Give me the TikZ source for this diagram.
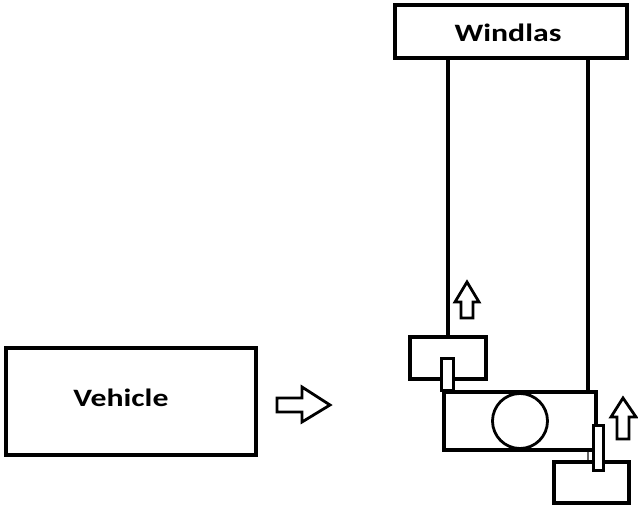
\documentclass[tikz,border=0pt]{standalone}
\usepackage{fontspec}
\setmainfont{Carlito}
\newfontfamily\widelabel[FakeStretch=1.27]{Carlito}
\tikzset{
  box/.style={draw=black, line width=3.5pt, fill=white, inner sep=0pt},
  rope/.style={draw=black, line width=3.5pt},
  bar/.style={draw=black, line width=3pt, fill=white, inner sep=0pt},
  blockarrow/.style={draw=black, line width=2.8pt, fill=white, line join=miter},
  boxlabel/.style={font=\widelabel\bfseries\fontsize{25}{29}\selectfont},
}

\begin{document}
\begin{tikzpicture}[x=1pt,y=-1pt]
\useasboundingbox (0,0) rectangle (638,506);
% windlas and ropes
\node[box, minimum width=232, minimum height=53] (windlas) at (511,31.5) {};
\node[boxlabel] (windlaslabel) at (508,33) {Windlas};
\node[box, minimum width=76, minimum height=42] (carriage) at (448,358) {};
\node[box, minimum width=152, minimum height=58] (block) at (520,421) {};
\node[box, minimum width=75, minimum height=41] (base) at (591.5,482.5) {};
\coordinate (ropeL) at (carriage.north);
\coordinate (ropeR) at (588,392);
\draw[rope] (ropeL) -- (ropeL |- windlas.south);
\draw[rope] (ropeR) -- (ropeR |- windlas.south);
\draw[rope, line width=1.5pt, draw=black!60] (block.south -| ropeR) -- (base.north -| ropeR);
% pulley
\node[draw=black, line width=2.8pt, circle, minimum size=55, inner sep=0pt] (pulley) at (block) {};
% bars
\node[bar, minimum width=12, minimum height=32] (barL) at (447,374) {};
\node[bar, minimum width=10, minimum height=45] (barR) at (598,447.5) {};
% vehicle
\node[box, line width=4pt, minimum width=250, minimum height=107] (vehicle) at (131,401.5) {};
\node[boxlabel] (vehiclelabel) at (121,398) {Vehicle};
% block arrows
\draw[blockarrow] (277,398) -- (302,398) -- (302,387) -- (330,405) -- (302,422)
  -- (302,412) -- (277,412) -- cycle;
\draw[blockarrow] (461,318) -- (461,302) -- (455,302) -- (467,282) -- (479,302)
  -- (473,302) -- (473,318) -- cycle;
\draw[blockarrow] (617,439) -- (617,417) -- (611,417) -- (623,398) -- (636,417)
  -- (629,417) -- (629,439) -- cycle;
\end{tikzpicture}
\end{document}
